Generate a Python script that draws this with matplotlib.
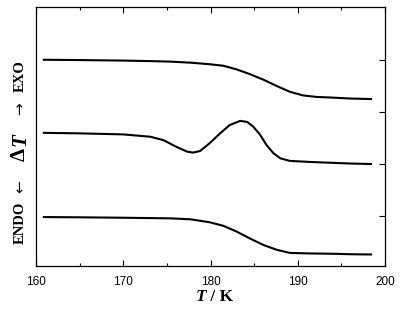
import matplotlib
matplotlib.use("Agg")
import matplotlib.pyplot as plt
from matplotlib.ticker import MultipleLocator

# (T in K, dT in offset units)
t_top = [160.9, 165.0, 170.0, 173.1, 175.4, 177.7, 179.9, 181.5, 183.0, 184.5, 186.1,
         187.6, 189.1, 190.6, 192.2, 193.7, 196.0, 198.4]
dt_top = [4.006, 4.0, 3.99, 3.98, 3.97, 3.95, 3.92, 3.89, 3.82, 3.73, 3.62,
          3.50, 3.39, 3.32, 3.29, 3.28, 3.26, 3.25]

t_mid = [160.9, 165.0, 170.0, 173.1, 174.6, 176.1, 177.3, 178.0, 178.8, 179.9, 181.1,
         182.2, 183.4, 184.2, 184.9, 185.7, 186.4, 187.2, 188.0, 189.1, 191.4,
         193.7, 196.0, 198.4]
dt_mid = [2.60, 2.59, 2.57, 2.525, 2.46, 2.33, 2.24, 2.22, 2.25, 2.40, 2.59,
          2.75, 2.83, 2.81, 2.72, 2.56, 2.37, 2.21, 2.11, 2.06, 2.04,
          2.025, 2.01, 2.00]

t_bot = [160.9, 165.0, 170.0, 173.1, 175.4, 177.7, 179.9, 181.5, 183.0, 184.5, 186.1,
         187.6, 189.1, 191.4, 193.7, 196.0, 198.4]
dt_bot = [0.98, 0.975, 0.967, 0.96, 0.955, 0.937, 0.88, 0.81, 0.70, 0.57, 0.44,
          0.35, 0.29, 0.28, 0.275, 0.265, 0.26]

fig = plt.figure(figsize=(4, 3.2), dpi=100)
ax = fig.add_axes([0.09, 0.169, 0.8725, 0.809])

for t, d in [(t_top, dt_top), (t_mid, dt_mid), (t_bot, dt_bot)]:
    ax.plot(t, d, color="black", lw=1.5, solid_joinstyle="round")

ax.set_xlim(160, 200)
ax.set_ylim(0.04, 5.02)
ax.xaxis.set_major_locator(MultipleLocator(10))
ax.xaxis.set_minor_locator(MultipleLocator(5))
ax.set_yticks([1, 2, 3, 4])
ax.tick_params(axis="x", which="both", direction="in", top=True, length=4, width=0.8,
               labelsize=8.5, pad=7)
ax.tick_params(axis="x", which="minor", length=2.5)
ax.tick_params(axis="y", direction="in", left=False, right=True, labelleft=False,
               length=4, width=0.8)
for lab in ax.get_xticklabels():
    lab.set_family("Liberation Sans")
for s in ax.spines.values():
    s.set_linewidth(0.9)

# x label "T / K"
fig.text(0.515, 0.072, " / K", ha="left", va="center", fontsize=12.5,
         family="Liberation Serif", weight="bold")
fig.text(0.515, 0.072, "T", ha="right", va="center", fontsize=12.5,
         family="Liberation Serif", weight="bold", style="italic")

# y label "ENDO <- dT -> EXO"
x0 = 0.05
fig.text(x0, 0.303, "ENDO", rotation=90, ha="center", va="center", fontsize=10.5,
         family="Liberation Serif", weight="bold")
fig.text(x0, 0.418, "\u2190", rotation=90, ha="center", va="center", fontsize=11,
         family="DejaVu Sans")
fig.text(x0, 0.516, "\u0394", rotation=90, ha="center", va="center", fontsize=15,
         family="Liberation Serif", weight="bold")
fig.text(x0, 0.563, "T", rotation=90, ha="center", va="center", fontsize=15,
         family="Liberation Serif", weight="bold", style="italic")
fig.text(x0, 0.66, "\u2192", rotation=90, ha="center", va="center", fontsize=11,
         family="DejaVu Sans")
fig.text(x0, 0.762, "EXO", rotation=90, ha="center", va="center", fontsize=10.5,
         family="Liberation Serif", weight="bold")

fig.savefig("out.png", dpi=100)
